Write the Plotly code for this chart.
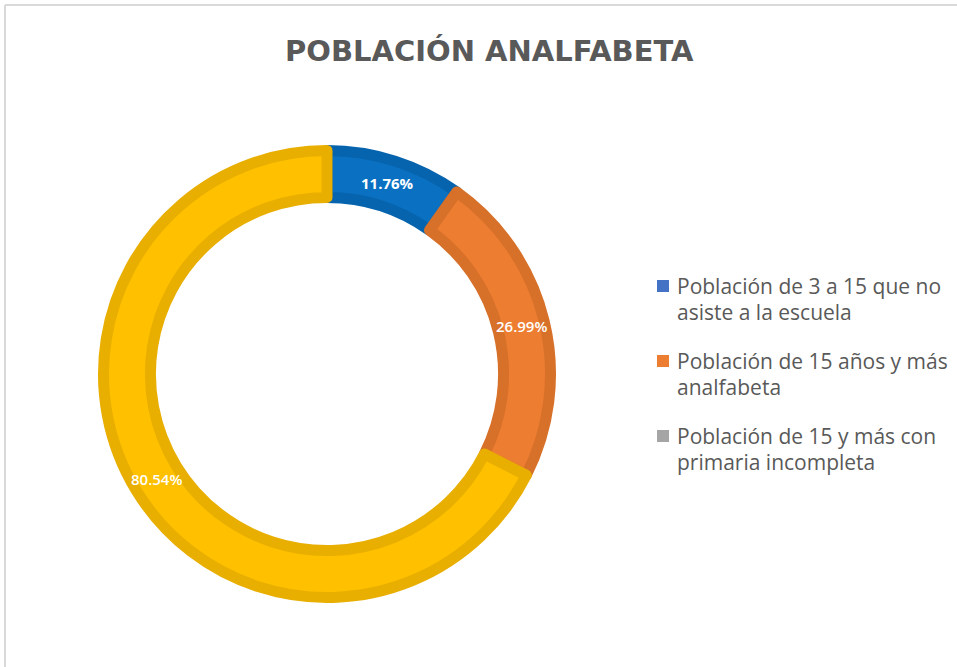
import math
import plotly.graph_objects as go

W, H = 957, 667

# ---- data ----
categories = [
    "Población de 3 a 15 que no<br>asiste a la escuela",
    "Población de 15 años y más<br>analfabeta",
    "Población de 15 y más con<br>primaria incompleta",
]
values = [11.76, 26.99, 80.54]
slice_colors = ["#0A71C2", "#ED7D31", "#FFC000"]
slice_border = ["#0663AD", "#D77029", "#E8AE00"]
legend_colors = ["#4472C4", "#ED7D31", "#A5A5A5"]
label_weights = [700, 600, 600]
title_text = "POBLACIÓN ANALFABETA"


def px_x(x):
    return x / W


def px_y(y):
    return 1 - y / H


# pie geometry (pixels)
cx, cy, r = 327, 374, 223.5
hole = 0.79

fig = go.Figure()
fig.add_trace(go.Pie(
    labels=categories,
    values=values,
    sort=False,
    direction="clockwise",
    rotation=0,
    hole=hole,
    marker=dict(colors=slice_colors, line=dict(color=slice_border, width=11)),
    textinfo="none",
    showlegend=False,
    hoverinfo="label+value",
    domain=dict(x=[px_x(cx - r), px_x(cx + r)], y=[px_y(cy + r), px_y(cy - r)]),
))

annotations = [dict(
    text=f"<b>{title_text}</b>", x=px_x(490), y=px_y(51), xref="paper", yref="paper",
    xanchor="center", yanchor="middle", showarrow=False,
    font=dict(family="DejaVu Sans", size=29, color="#595959"),
)]

# data labels at the middle angle of each slice, centred in the ring
total = sum(values)
r_mid = (r + r * hole) / 2
cum = 0.0
for v, wgt in zip(values, label_weights):
    ang = 2 * math.pi * (cum + v / 2) / total
    cum += v
    annotations.append(dict(
        text=f"{v:.2f}%", x=px_x(cx + r_mid * math.sin(ang)), y=px_y(cy - r_mid * math.cos(ang)),
        xref="paper", yref="paper", xanchor="center", yanchor="middle", showarrow=False,
        font=dict(family="Open Sans", size=15, color="white", weight=wgt),
    ))

shapes = [
    dict(type="line", xref="paper", yref="paper", x0=px_x(5), x1=1, y0=px_y(5), y1=px_y(5),
         line=dict(color="#D9D9D9", width=2)),
    dict(type="line", xref="paper", yref="paper", x0=px_x(5), x1=px_x(5), y0=px_y(5), y1=0,
         line=dict(color="#D9D9D9", width=2)),
]

leg_x_marker, leg_x_text, leg_y0, entry_gap, line_gap = 663, 675, 286, 75, 26
for i, (lab, col) in enumerate(zip(categories, legend_colors)):
    ybase = leg_y0 + i * entry_gap
    shapes.append(dict(type="rect", xref="paper", yref="paper",
                       x0=px_x(leg_x_marker - 6), x1=px_x(leg_x_marker + 6),
                       y0=px_y(ybase + 6), y1=px_y(ybase - 6),
                       fillcolor=col, line=dict(width=0)))
    for j, part in enumerate(lab.split("<br>")):
        annotations.append(dict(
            text=part, x=px_x(leg_x_text), y=px_y(ybase + j * line_gap),
            xref="paper", yref="paper", xanchor="left", yanchor="middle",
            showarrow=False, font=dict(family="Open Sans", size=21, color="#595959"),
        ))

fig.update_layout(
    width=W, height=H,
    margin=dict(l=0, r=0, t=0, b=0),
    paper_bgcolor="white", plot_bgcolor="white",
    annotations=annotations, shapes=shapes,
)

fig.write_html("out.html", config={"displayModeBar": False},
               post_script="document.body.style.margin='0';")
